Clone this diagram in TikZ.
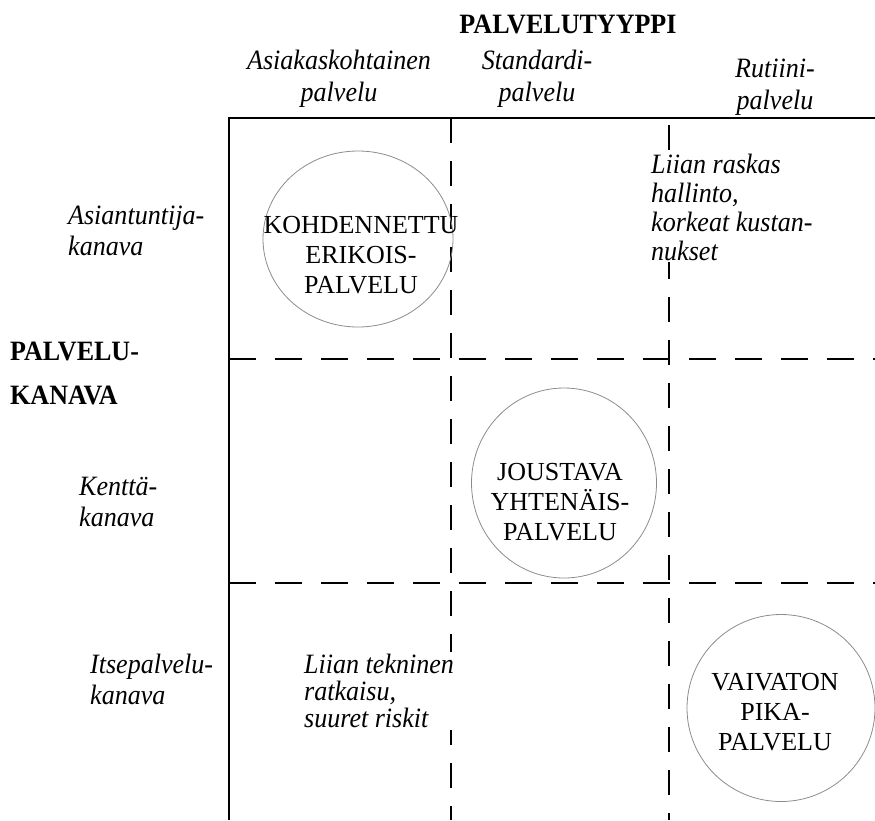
\documentclass[tikz,border=0pt]{standalone}
\usepackage{fontspec}
\setmainfont{Liberation Serif}
\newfontfamily\labelfont[FakeStretch=0.93]{Liberation Serif}
\usetikzlibrary{shapes.geometric}
\begin{document}
\begin{tikzpicture}[x=1pt,y=-1pt,
  lbl/.style={font=\labelfont\fontsize{28}{31}\selectfont\itshape, inner sep=0pt, align=left, anchor=west},
  note/.style={lbl, font=\labelfont\fontsize{28}{29}\selectfont\itshape, fill=white, inner sep=2pt},
  collbl/.style={font=\labelfont\fontsize{28}{32}\selectfont\itshape, inner sep=0pt, align=center},
  headlbl/.style={font=\labelfont\fontsize{28}{44}\selectfont\bfseries, inner sep=0pt, align=left},
  svc/.style={font=\fontsize{26}{30}\selectfont, inner sep=0pt, align=center},
  ring/.style={draw=black!45, line width=0.8pt, ellipse, inner sep=0pt},
  frame/.style={line width=1.8pt},
  vdash/.style={line width=1.8pt, dash pattern=on 25pt off 18pt},
  hdash/.style={line width=1.8pt, dash pattern=on 27pt off 19pt}]
\useasboundingbox (0,0) rectangle (875,820);
% frame and grid
\coordinate (tl) at (229,118);
\coordinate (tr) at (875,118);
\coordinate (bl) at (229,820);
\coordinate (v1t) at (451,118);
\coordinate (v1b) at (451,820);
\coordinate (v2t) at (669,125);
\coordinate (v2b) at (669,820);
\coordinate (h1l) at (229,359);
\coordinate (h1r) at (875,359);
\coordinate (h2l) at (229,583);
\coordinate (h2r) at (875,583);
\draw[frame] (tr) -- (tl) -- (bl);
\draw[vdash] (v1t) -- (v1b);
\draw[vdash] (v2t) -- (v2b);
\draw[hdash] (h1l) -- (h1r);
\draw[hdash] (h2l) -- (h2r);
% headings
\node[headlbl] (tyyppi) at (568,24) {PALVELUTYYPPI};
\node[collbl] (ca) at (339,79) {Asiakaskohtainen\\palvelu};
\node[collbl] (cb) at (537,79) {Standardi-\\palvelu};
\node[collbl] (cc) at (775,87) {Rutiini-\\palvelu};
\node[headlbl, anchor=west] (kanava) at (10,373) {PALVELU-\\KANAVA};
\node[lbl] (r1) at (68,231) {Asiantuntija-\\kanava};
\node[lbl] (r2) at (79,502) {Kenttä-\\kanava};
\node[lbl] (r3) at (90,679) {Itsepalvelu-\\kanava};
% notes
\node[note] (n1) at (649,207) {Liian raskas\\hallinto,\\korkeat kustan-\\nukset};
\node[note, font=\labelfont\fontsize{28}{27}\selectfont\itshape] (n2) at (302,691) {Liian tekninen\\ratkaisu,\\suuret riskit};
% service circles
\node[ring, minimum width=190pt, minimum height=176pt] (e1) at (358,239) {};
\node[ring, minimum width=185pt, minimum height=190pt] (e2) at (564,483) {};
\node[ring, minimum width=188pt, minimum height=187pt] (e3) at (781,708) {};
\node[svc] (s1) at (361,255) {KOHDENNETTU\\ERIKOIS-\\PALVELU};
\node[svc] (s2) at (560,502) {JOUSTAVA\\YHTENÄIS-\\PALVELU};
\node[svc] (s3) at (775,712) {VAIVATON\\PIKA-\\PALVELU};
\end{tikzpicture}
\end{document}
